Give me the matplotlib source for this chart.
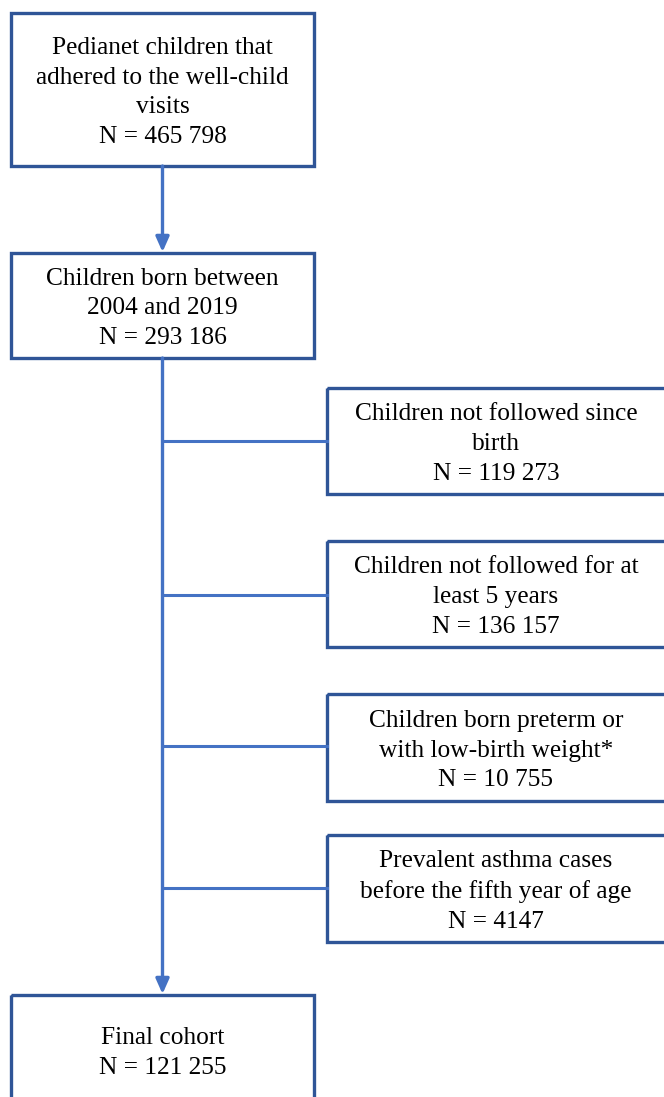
import matplotlib.pyplot as plt
from matplotlib.patches import Rectangle

# main column boxes: text, top, bottom (pixels)
main_text = ['Pedianet children that\nadhered to the well-child\nvisits\nN = 465 798',
             'Children born between\n2004 and 2019\nN = 293 186',
             'Final cohort\nN = 121 255']
main_top = [13, 253, 995]
main_bot = [166, 358, 1105]

# exclusion boxes on the right
excl_text = ['Children not followed since\nbirth\nN = 119 273',
             'Children not followed for at\nleast 5 years\nN = 136 157',
             'Children born preterm or\nwith low-birth weight*\nN = 10 755',
             'Prevalent asthma cases\nbefore the fifth year of age\nN = 4147']
excl_top = [388, 541, 694, 835]
excl_bot = [494, 647, 801, 942]
excl_link = [441, 595, 746, 888]

W, H = 664, 1097
box_col = '#2F5597'
line_col = '#4472C4'

fig = plt.figure(figsize=(W / 100, H / 100), dpi=100)
ax = fig.add_axes([0, 0, 1, 1])
ax.set_xlim(0, W)
ax.set_ylim(H, 0)
ax.axis('off')

font = dict(family='Liberation Serif', fontsize=18.3, ha='center', va='center',
            linespacing=1.45, color='black')

mx0, mx1 = 11, 314
cx = (mx0 + mx1) / 2
for t, y0, y1 in zip(main_text, main_top, main_bot):
    ax.add_patch(Rectangle((mx0, y0), mx1 - mx0, y1 - y0, fill=False,
                           ec=box_col, lw=2.4, clip_on=True))
    ax.text(cx, (y0 + y1) / 2 + 3, t, **font)

ex0, ex1 = 327, 666
for t, y0, y1, yl in zip(excl_text, excl_top, excl_bot, excl_link):
    ax.add_patch(Rectangle((ex0, y0), ex1 - ex0, y1 - y0, fill=False,
                           ec=box_col, lw=2.4, clip_on=True))
    ax.text(496, (y0 + y1) / 2 + 3, t, **font)
    ax.plot([cx, ex0], [yl, yl], color=line_col, lw=2.2)

# arrows
arrow = dict(arrowstyle='-|>,head_length=0.9,head_width=0.4', color=line_col, lw=2.4,
             shrinkA=0, shrinkB=0)
ax.annotate('', xy=(cx, main_top[1] - 1), xytext=(cx, main_bot[0]), arrowprops=arrow)
ax.annotate('', xy=(cx, main_top[2] - 1), xytext=(cx, main_bot[1]), arrowprops=arrow)

fig.savefig('out.png', dpi=100)
